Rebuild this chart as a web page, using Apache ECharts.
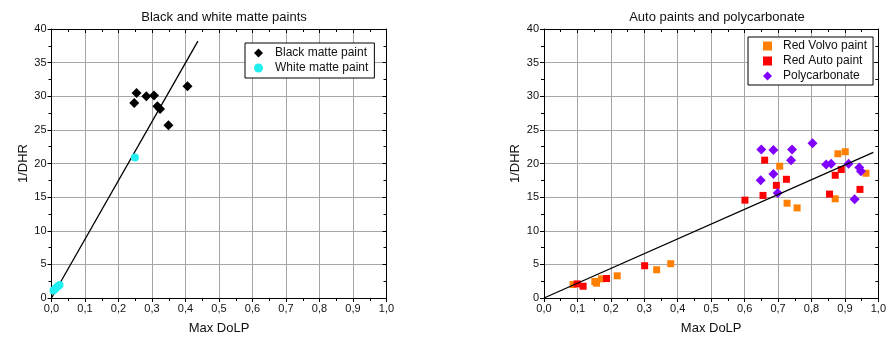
<!DOCTYPE html>
<html>
<head>
<meta charset="utf-8">
<script src="https://cdn.jsdelivr.net/npm/echarts@6/dist/echarts.min.js"></script>
<style>html,body{margin:0;padding:0;background:#fff}#c{width:889px;height:343px}</style>
</head>
<body>
<div id="c"></div>
<script>
// ---- data ----
const xTicks = ['0,0','0,1','0,2','0,3','0,4','0,5','0,6','0,7','0,8','0,9','1,0'];
const blackMatte = [[0.247,29.0],[0.254,30.5],[0.283,30.0],[0.306,30.1],[0.316,28.5],[0.324,28.1],[0.349,25.7],[0.406,31.5]];
const whiteMatte = [[0.249,20.9],[0.006,1.1],[0.012,1.4],[0.018,1.7],[0.024,1.95]];
const fitLeft = [[0,0],[0.437,38.2]];
const redVolvo = [[0.087,2.0],[0.152,2.45],[0.157,2.2],[0.172,2.85],[0.219,3.3],[0.337,4.2],[0.379,5.1],[0.705,19.6],[0.727,14.1],[0.757,13.4],[0.879,21.45],[0.901,21.75],[0.871,14.75],[0.963,18.55]];
const redAuto = [[0.099,2.1],[0.117,1.75],[0.187,2.9],[0.301,4.8],[0.601,14.55],[0.655,15.25],[0.660,20.5],[0.695,16.75],[0.725,17.65],[0.854,15.45],[0.871,18.25],[0.889,19.1],[0.945,16.15]];
const polycarb = [[0.650,22.1],[0.686,22.0],[0.742,22.1],[0.803,23.0],[0.739,20.5],[0.648,17.5],[0.686,18.45],[0.699,15.6],[0.844,19.85],[0.859,19.95],[0.911,19.95],[0.943,19.4],[0.948,18.85],[0.929,14.7]];
const fitRight = [[0,0],[0.985,21.66]];

const FONT = 'Liberation Sans, Arial, sans-serif';
const chart = echarts.init(document.getElementById('c'), null, {renderer:'canvas'});

function xAxes(gi){
  return [{
    gridIndex: gi, type:'value', min:0, max:1, interval:0.1, position:'bottom',
    name:'Max DoLP', nameLocation:'middle', nameGap:24,
    nameTextStyle:{fontFamily:FONT,fontSize:13,color:'#111'},
    axisLine:{onZero:false,lineStyle:{color:'#000',width:1}},
    axisTick:{show:true,inside:false,length:4,lineStyle:{color:'#000'}},
    minorTick:{show:true,splitNumber:2,length:3,lineStyle:{color:'#000'}},
    axisLabel:{fontFamily:FONT,fontSize:11,color:'#111',margin:5,formatter:(v)=>xTicks[Math.round(v*10)]},
    splitLine:{show:true,lineStyle:{color:'#a6a6a6',width:1}}
  },{
    gridIndex: gi, type:'value', min:0, max:1, interval:0.1, position:'top',
    axisLine:{onZero:false,lineStyle:{color:'#000',width:1}},
    axisTick:{show:true,inside:true,length:4,lineStyle:{color:'#000'}},
    minorTick:{show:true,splitNumber:2,length:3,lineStyle:{color:'#000'}},
    axisLabel:{show:false}, splitLine:{show:false}
  }];
}
function yAxes(gi){
  return [{
    gridIndex: gi, type:'value', min:0, max:40, interval:5, position:'left',
    name:'1/DHR', nameLocation:'middle', nameGap:22,
    nameTextStyle:{fontFamily:FONT,fontSize:13,color:'#111'},
    axisLine:{onZero:false,lineStyle:{color:'#000',width:1}},
    axisTick:{show:true,inside:false,length:4,lineStyle:{color:'#000'}},
    minorTick:{show:true,splitNumber:2,length:3,lineStyle:{color:'#000'}},
    axisLabel:{fontFamily:FONT,fontSize:11,color:'#111',margin:5},
    splitLine:{show:true,lineStyle:{color:'#a6a6a6',width:1}}
  },{
    gridIndex: gi, type:'value', min:0, max:40, interval:5, position:'right',
    axisLine:{onZero:false,lineStyle:{color:'#000',width:1}},
    axisTick:{show:true,inside:true,length:4,lineStyle:{color:'#000'}},
    minorTick:{show:true,splitNumber:2,length:3,lineStyle:{color:'#000'}},
    axisLabel:{show:false}, splitLine:{show:false}
  }];
}

const option = {
  backgroundColor:'#fff',
  animation:false,
  title:[
    {text:'Black and white matte paints', left:219, top:6, textAlign:'center', textStyle:{fontFamily:FONT,fontSize:13,fontWeight:'normal',color:'#111'}},
    {text:'Auto paints and polycarbonate', left:712, top:6, textAlign:'center', textStyle:{fontFamily:FONT,fontSize:13,fontWeight:'normal',color:'#111'}}
  ],
  grid:[
    {left:51.5, top:29, width:335, height:269},
    {left:544, top:29, width:336, height:269}
  ],
  xAxis:[...xAxes(0), ...xAxes(1)],
  yAxis:[...yAxes(0), ...yAxes(1)],
  legend:[
    {data:['Black matte paint','White matte paint'], orient:'vertical', left:245, top:43, padding:[4,6,4,9], itemGap:3, itemWidth:9, itemHeight:9,
     backgroundColor:'#fff', borderColor:'#000', borderWidth:1,
     textStyle:{fontFamily:FONT,fontSize:12,color:'#111',padding:[0,0,0,7]}},
    {data:['Red Volvo paint','Red Auto paint','Polycarbonate'], orient:'vertical', left:748, top:37, padding:[3,6,3,15], itemGap:3, itemWidth:9, itemHeight:9,
     backgroundColor:'#fff', borderColor:'#000', borderWidth:1,
     textStyle:{fontFamily:FONT,fontSize:12,color:'#111',padding:[0,0,0,6]}}
  ],
  series:[
    {name:'fitL', type:'line', xAxisIndex:0, yAxisIndex:0, data:fitLeft, symbol:'none', lineStyle:{color:'#000',width:1.3}, z:3, silent:true},
    {name:'Black matte paint', type:'scatter', xAxisIndex:0, yAxisIndex:0, data:blackMatte, symbol:'diamond', symbolSize:10, itemStyle:{color:'#000',opacity:1}, z:4},
    {name:'White matte paint', type:'scatter', xAxisIndex:0, yAxisIndex:0, data:whiteMatte, symbol:'circle', symbolSize:8, itemStyle:{color:'#22f0f0',opacity:1}, z:4},
    {name:'fitR', type:'line', xAxisIndex:2, yAxisIndex:2, data:fitRight, symbol:'none', lineStyle:{color:'#000',width:1.3}, z:5, silent:true},
    {name:'Red Volvo paint', type:'scatter', xAxisIndex:2, yAxisIndex:2, data:redVolvo, symbol:'rect', symbolSize:7, itemStyle:{color:'#ff8000',opacity:1}, z:4},
    {name:'Red Auto paint', type:'scatter', xAxisIndex:2, yAxisIndex:2, data:redAuto, symbol:'rect', symbolSize:7, itemStyle:{color:'#ff0000',opacity:1}, z:4},
    {name:'Polycarbonate', type:'scatter', xAxisIndex:2, yAxisIndex:2, data:polycarb, symbol:'diamond', symbolSize:10, itemStyle:{color:'#8000ff',opacity:1}, z:4}
  ]
};
chart.setOption(option);
</script>
</body>
</html>
